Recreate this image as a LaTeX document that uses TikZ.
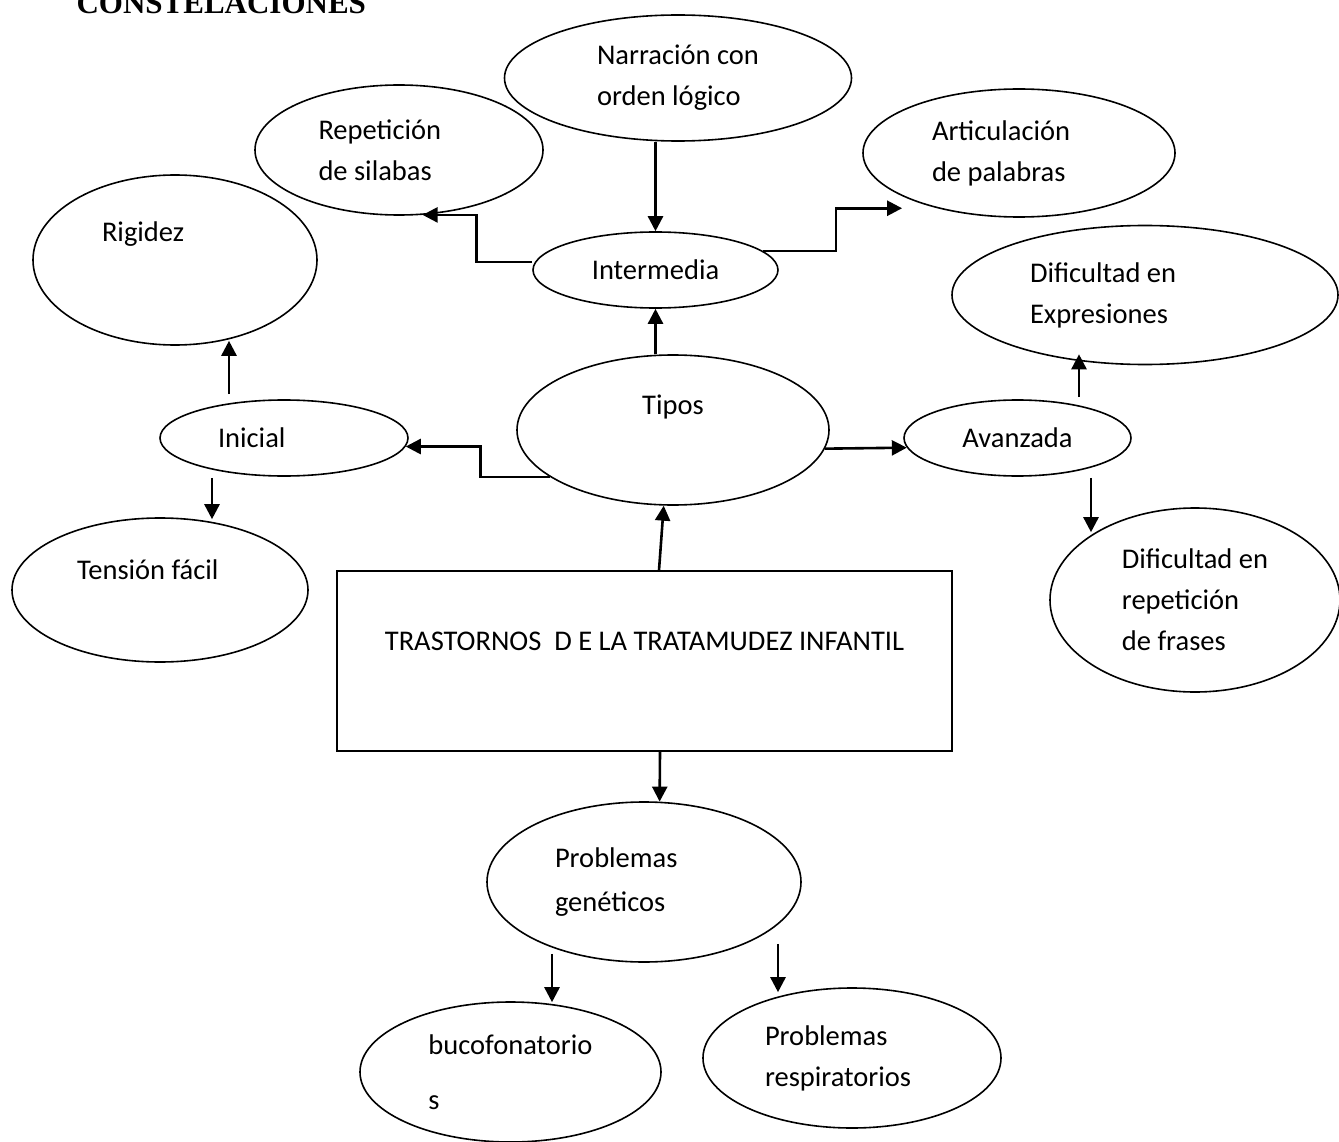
\documentclass[tikz,border=0pt]{standalone}
\usepackage{fontspec}
\setmainfont{Carlito}
\newfontfamily\titlefont{Liberation Serif}
\usepackage{tikz}
\usetikzlibrary{shapes.geometric, arrows.meta, positioning}
\tikzstyle{bubble} = [ellipse, draw=black, line width=1.6pt, inner sep=2pt, font=\fontsize{28.5}{41}\selectfont]
\tikzstyle{mainbox} = [rectangle, draw=black, line width=1.6pt, font=\fontsize{28.5}{41}\selectfont]
\tikzstyle{arrow} = [line width=2.6pt, ->, >={Triangle[length=15pt, width=15pt]}]

\begin{document}
\begin{tikzpicture}[x=1pt, y=-1pt]
\useasboundingbox (0,0) rectangle (1339,1142);

\node (title) [anchor=base west, font=\titlefont\bfseries\fontsize{31}{36}\selectfont] at (73,13.5) {CONSTELACIONES};

\node (narr) [bubble, minimum width=347pt, minimum height=126pt, align=flush left] at (678,78) {Narración con\\orden lógico};
\node (repet) [bubble, minimum width=288pt, minimum height=130pt, text width=161pt, align=flush left] at (399,150) {Repetición\\de silabas};
\node (artic) [bubble, minimum width=312pt, minimum height=128pt, text width=174pt, align=flush left] at (1019,153) {Articulación\\de palabras};
\node (rigid) [bubble, minimum width=284pt, minimum height=170pt, text width=146pt, align=flush left, text height=20pt, text depth=57pt] at (175,260) {Rigidez};
\node (inter) [bubble, minimum width=245pt, minimum height=76pt] at (655.5,270) {Intermedia};
\node (difexp) [bubble, minimum width=386pt, minimum height=139pt, text width=230pt, align=flush left] at (1145,295) {Dificultad en\\Expresiones};
\node (tipos) [bubble, minimum width=312pt, minimum height=150pt, text height=20pt, text depth=51pt] at (673,430) {Tipos};
\node (inicial) [bubble, minimum width=248pt, minimum height=76pt, text width=132pt, align=flush left] at (284,438) {Inicial};
\node (avanz) [bubble, minimum width=227pt, minimum height=76pt] at (1017.5,438) {Avanzada};
\node (tension) [bubble, minimum width=296pt, minimum height=144pt, text width=166pt, align=flush left, text height=20pt, text depth=41pt] at (160,590) {Tensión fácil};
\node (difrep) [bubble, minimum width=290pt, minimum height=184pt, align=flush left] at (1195,600) {Dificultad en\\repetición\\de frases};
\node (trast) [mainbox, minimum width=615pt, minimum height=180pt, text height=20pt, text depth=42pt] at (644.5,661) {TRASTORNOS\ \ D E LA TRATAMUDEZ INFANTIL};
\node (prob) [bubble, minimum width=314pt, minimum height=160pt, text width=178pt, align=flush left] at (644,882) {Problemas\\[3pt]genéticos};
\node (bucof) [bubble, minimum width=301pt, minimum height=140pt, align=flush left] at (510.5,1072) {bucofonatorio\\[14pt]s};
\node (resp) [bubble, minimum width=298pt, minimum height=140pt, text width=174pt, align=flush left] at (852,1058) {Problemas\\respiratorios};

\draw [arrow] (inter.north |- narr.south) -- (inter.north);
\draw [arrow] ([yshift=8pt]inter.west) -- ++(-56,0) |- (repet.290);
\draw [arrow, shorten >=35pt] (inter.10) -- ++(73,0) |- (artic.214);
\draw [arrow] (inter.south |- tipos.north) -- (inter.south);
\draw [arrow] (tipos.201) -- ++(-70,0) |- (inicial.356);
\draw [arrow] (tipos.353) -- (avanz.185);
\draw [arrow] ([xshift=14.5pt]trast.north) -- (tipos.263);
\draw [arrow] ([xshift=15.5pt]trast.south) -- (prob.79);
\draw [arrow] ([xshift=-55pt, yshift=5pt]inicial.north) -- ([xshift=54pt, yshift=5pt]rigid.south);
\draw [arrow] ([xshift=-72pt, yshift=-1pt]inicial.south) -- ([xshift=52pt, yshift=-2pt]tension.north);
\draw [arrow] ([xshift=61.5pt, yshift=2pt]avanz.north) -- ([xshift=-66pt, yshift=11pt]difexp.south);
\draw [arrow] ([xshift=73.5pt, yshift=-1pt]avanz.south) -- ([xshift=-104pt, yshift=-25pt]difrep.north);
\draw [arrow] ([xshift=-92pt, yshift=9pt]prob.south) -- ([xshift=41.5pt, yshift=-1pt]bucof.north);
\draw [arrow] ([xshift=134pt, yshift=19pt]prob.south) -- ([xshift=-74pt, yshift=-5pt]resp.north);

\end{tikzpicture}
\end{document}
